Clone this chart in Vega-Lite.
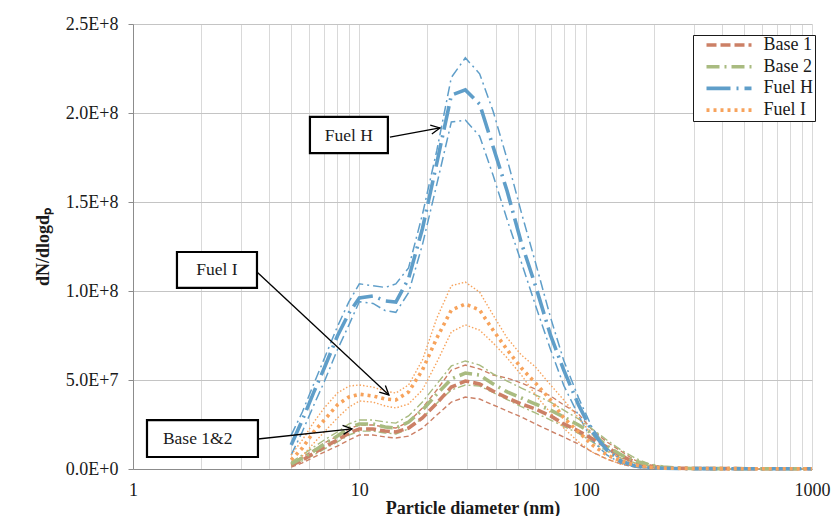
{
  "$schema": "https://vega.github.io/schema/vega-lite/v6.json",
  "width": 679,
  "height": 445,
  "autosize": {"type": "none"},
  "padding": {"left": 133, "top": 24, "right": 19, "bottom": 47},
  "background": "white",
  "config": {
    "font": "Liberation Serif",
    "view": {"stroke": null},
    "axis": {
      "labelFont": "Liberation Serif",
      "titleFont": "Liberation Serif",
      "labelColor": "#1a1a1a",
      "titleColor": "#1a1a1a",
      "labelFontSize": 18,
      "titleFontSize": 18
    }
  },
  "datasets": {
    "psd": [
      {"d": 5, "Base 1": 2.2e6, "B1hi": 3.4e6, "B1lo": 1.1e6, "Base 2": 2.8e6, "B2hi": 3.9e6, "B2lo": 1.7e6, "Fuel H": 1.35e7, "Hhi": 1.9e7, "Hlo": 7.9e6, "Fuel I": 5.1e6, "Ihi": 7.9e6, "Ilo": 2.2e6},
      {"d": 5.6, "Base 1": 5e6, "B1hi": 6.7e6, "B1lo": 3.4e6, "Base 2": 6.2e6, "B2hi": 7.9e6, "B2lo": 4.5e6, "Fuel H": 2.75e7, "Hhi": 3.2e7, "Hlo": 2.1e7, "Fuel I": 1.18e7, "Ihi": 1.63e7, "Ilo": 7.3e6},
      {"d": 6.3, "Base 1": 9e6, "B1hi": 1.07e7, "B1lo": 6.7e6, "Base 2": 1.01e7, "B2hi": 1.24e7, "B2lo": 7.9e6, "Fuel H": 4.33e7, "Hhi": 4.8e7, "Hlo": 3.6e7, "Fuel I": 2.1e7, "Ihi": 2.64e7, "Ilo": 1.46e7},
      {"d": 7, "Base 1": 1.24e7, "B1hi": 1.46e7, "B1lo": 9.5e6, "Base 2": 1.4e7, "B2hi": 1.63e7, "B2lo": 1.12e7, "Fuel H": 5.67e7, "Hhi": 6.2e7, "Hlo": 4.9e7, "Fuel I": 2.75e7, "Ihi": 3.43e7, "Ilo": 2.08e7},
      {"d": 8, "Base 1": 1.63e7, "B1hi": 1.85e7, "B1lo": 1.29e7, "Base 2": 1.85e7, "B2hi": 2.08e7, "B2lo": 1.52e7, "Fuel H": 7.47e7, "Hhi": 8.0e7, "Hlo": 6.7e7, "Fuel I": 3.6e7, "Ihi": 4.27e7, "Ilo": 2.87e7},
      {"d": 9, "Base 1": 2.02e7, "B1hi": 2.25e7, "B1lo": 1.63e7, "Base 2": 2.3e7, "B2hi": 2.53e7, "B2lo": 1.91e7, "Fuel H": 8.76e7, "Hhi": 9.4e7, "Hlo": 8.1e7, "Fuel I": 4.05e7, "Ihi": 4.66e7, "Ilo": 3.48e7},
      {"d": 10, "Base 1": 2.25e7, "B1hi": 2.47e7, "B1lo": 1.91e7, "Base 2": 2.53e7, "B2hi": 2.75e7, "B2lo": 2.13e7, "Fuel H": 9.61e7, "Hhi": 1.04e8, "Hlo": 9.4e7, "Fuel I": 4.2e7, "Ihi": 4.72e7, "Ilo": 3.82e7},
      {"d": 11.5, "Base 1": 2.25e7, "B1hi": 2.47e7, "B1lo": 1.91e7, "Base 2": 2.53e7, "B2hi": 2.75e7, "B2lo": 2.13e7, "Fuel H": 9.72e7, "Hhi": 1.03e8, "Hlo": 9.3e7, "Fuel I": 4.1e7, "Ihi": 4.6e7, "Ilo": 3.76e7},
      {"d": 13, "Base 1": 2.13e7, "B1hi": 2.36e7, "B1lo": 1.8e7, "Base 2": 2.36e7, "B2hi": 2.64e7, "B2lo": 2.02e7, "Fuel H": 9.44e7, "Hhi": 1.02e8, "Hlo": 8.9e7, "Fuel I": 3.93e7, "Ihi": 4.38e7, "Ilo": 3.54e7},
      {"d": 14.5, "Base 1": 2.08e7, "B1hi": 2.3e7, "B1lo": 1.74e7, "Base 2": 2.3e7, "B2hi": 2.58e7, "B2lo": 1.97e7, "Fuel H": 9.38e7, "Hhi": 1.04e8, "Hlo": 8.8e7, "Fuel I": 3.88e7, "Ihi": 4.27e7, "Ilo": 3.43e7},
      {"d": 16.5, "Base 1": 2.3e7, "B1hi": 2.64e7, "B1lo": 1.85e7, "Base 2": 2.64e7, "B2hi": 2.98e7, "B2lo": 2.25e7, "Fuel H": 1.07e8, "Hhi": 1.13e8, "Hlo": 9.9e7, "Fuel I": 4.33e7, "Ihi": 4.72e7, "Ilo": 3.65e7},
      {"d": 19, "Base 1": 2.87e7, "B1hi": 3.43e7, "B1lo": 2.3e7, "Base 2": 3.31e7, "B2hi": 3.76e7, "B2lo": 2.87e7, "Fuel H": 1.35e8, "Hhi": 1.43e8, "Hlo": 1.26e8, "Fuel I": 5.56e7, "Ihi": 6.12e7, "Ilo": 4.44e7},
      {"d": 22, "Base 1": 3.7e7, "B1hi": 4.44e7, "B1lo": 3.03e7, "Base 2": 4.21e7, "B2hi": 4.78e7, "B2lo": 3.7e7, "Fuel H": 1.72e8, "Hhi": 1.79e8, "Hlo": 1.6e8, "Fuel I": 7.36e7, "Ihi": 8.48e7, "Ilo": 6.0e7},
      {"d": 25.5, "Base 1": 4.6e7, "B1hi": 5.56e7, "B1lo": 3.76e7, "Base 2": 5.06e7, "B2hi": 5.79e7, "B2lo": 4.44e7, "Fuel H": 2.10e8, "Hhi": 2.2e8, "Hlo": 1.95e8, "Fuel I": 8.93e7, "Ihi": 1.03e8, "Ilo": 7.7e7},
      {"d": 29.4, "Base 1": 4.94e7, "B1hi": 5.84e7, "B1lo": 4.04e7, "Base 2": 5.39e7, "B2hi": 6.07e7, "B2lo": 4.72e7, "Fuel H": 2.13e8, "Hhi": 2.31e8, "Hlo": 1.96e8, "Fuel I": 9.27e7, "Ihi": 1.05e8, "Ilo": 8.1e7},
      {"d": 34, "Base 1": 4.78e7, "B1hi": 5.62e7, "B1lo": 3.93e7, "Base 2": 5.28e7, "B2hi": 5.84e7, "B2lo": 4.66e7, "Fuel H": 2.05e8, "Hhi": 2.22e8, "Hlo": 1.87e8, "Fuel I": 8.93e7, "Ihi": 9.94e7, "Ilo": 7.8e7},
      {"d": 39, "Base 1": 4.38e7, "B1hi": 5.28e7, "B1lo": 3.6e7, "Base 2": 4.78e7, "B2hi": 5.34e7, "B2lo": 4.3e7, "Fuel H": 1.81e8, "Hhi": 2.01e8, "Hlo": 1.65e8, "Fuel I": 7.8e7, "Ihi": 8.65e7, "Ilo": 7.08e7},
      {"d": 45, "Base 1": 3.99e7, "B1hi": 5.11e7, "B1lo": 3.26e7, "Base 2": 4.33e7, "B2hi": 4.94e7, "B2lo": 3.9e7, "Fuel H": 1.56e8, "Hhi": 1.74e8, "Hlo": 1.4e8, "Fuel I": 6.7e7, "Ihi": 7.36e7, "Ilo": 6.24e7},
      {"d": 52, "Base 1": 3.65e7, "B1hi": 4.83e7, "B1lo": 2.92e7, "Base 2": 3.99e7, "B2hi": 4.55e7, "B2lo": 3.5e7, "Fuel H": 1.27e8, "Hhi": 1.44e8, "Hlo": 1.16e8, "Fuel I": 5.67e7, "Ihi": 6.4e7, "Ilo": 5.28e7},
      {"d": 60, "Base 1": 3.37e7, "B1hi": 4.49e7, "B1lo": 2.53e7, "Base 2": 3.65e7, "B2hi": 4.16e7, "B2lo": 3.15e7, "Fuel H": 1.03e8, "Hhi": 1.16e8, "Hlo": 9.2e7, "Fuel I": 4.83e7, "Ihi": 5.73e7, "Ilo": 4.16e7},
      {"d": 70, "Base 1": 2.98e7, "B1hi": 4.1e7, "B1lo": 2.13e7, "Base 2": 3.31e7, "B2hi": 3.76e7, "B2lo": 2.75e7, "Fuel H": 7.5e7, "Hhi": 8.5e7, "Hlo": 6.7e7, "Fuel I": 3.88e7, "Ihi": 4.72e7, "Ilo": 3.15e7},
      {"d": 80, "Base 1": 2.53e7, "B1hi": 3.6e7, "B1lo": 1.8e7, "Base 2": 2.92e7, "B2hi": 3.31e7, "B2lo": 2.4e7, "Fuel H": 5.56e7, "Hhi": 6.1e7, "Hlo": 4.7e7, "Fuel I": 2.87e7, "Ihi": 3.88e7, "Ilo": 2.3e7},
      {"d": 93, "Base 1": 2.13e7, "B1hi": 3.09e7, "B1lo": 1.4e7, "Base 2": 2.47e7, "B2hi": 2.81e7, "B2lo": 2.0e7, "Fuel H": 3.6e7, "Hhi": 4.0e7, "Hlo": 3.0e7, "Fuel I": 2.08e7, "Ihi": 2.87e7, "Ilo": 1.52e7},
      {"d": 107, "Base 1": 1.69e7, "B1hi": 2.19e7, "B1lo": 9.5e6, "Base 2": 2.0e7, "B2hi": 2.25e7, "B2lo": 1.52e7, "Fuel H": 2.08e7, "Hhi": 2.3e7, "Hlo": 1.6e7, "Fuel I": 1.35e7, "Ihi": 1.91e7, "Ilo": 9.5e6},
      {"d": 124, "Base 1": 1.24e7, "B1hi": 1.52e7, "B1lo": 5.6e6, "Base 2": 1.3e7, "B2hi": 1.63e7, "B2lo": 1.01e7, "Fuel H": 1.07e7, "Hhi": 1.18e7, "Hlo": 7.9e6, "Fuel I": 7.9e6, "Ihi": 1.07e7, "Ilo": 5.6e6},
      {"d": 143, "Base 1": 7.3e6, "B1hi": 1.01e7, "B1lo": 2.8e6, "Base 2": 8e6, "B2hi": 1.07e7, "B2lo": 6.2e6, "Fuel H": 4.5e6, "Hhi": 5e6, "Hlo": 3.4e6, "Fuel I": 4.5e6, "Ihi": 5.6e6, "Ilo": 2.8e6},
      {"d": 165, "Base 1": 3.9e6, "B1hi": 5e6, "B1lo": 1.1e6, "Base 2": 4.5e6, "B2hi": 6.2e6, "B2lo": 3.4e6, "Fuel H": 1.7e6, "Hhi": 1.7e6, "Hlo": 1.1e6, "Fuel I": 2.2e6, "Ihi": 2.8e6, "Ilo": 1.7e6},
      {"d": 191, "Base 1": 1.7e6, "B1hi": 2.2e6, "B1lo": 5e5, "Base 2": 2.2e6, "B2hi": 2.8e6, "B2lo": 1.7e6, "Fuel H": 6e5, "Hhi": 7e5, "Hlo": 5e5, "Fuel I": 1e6, "Ihi": 1.1e6, "Ilo": 8e5},
      {"d": 220, "Base 1": 6e5, "B1hi": 1e6, "B1lo": 3e5, "Base 2": 1.1e6, "B2hi": 1.1e6, "B2lo": 8e5, "Fuel H": 4e5, "Hhi": 4e5, "Hlo": 3e5, "Fuel I": 5e5, "Ihi": 5e5, "Ilo": 4e5},
      {"d": 255, "Base 1": 4e5, "B1hi": 5e5, "B1lo": 3e5, "Base 2": 5e5, "B2hi": 6e5, "B2lo": 4e5, "Fuel H": 3e5, "Hhi": 3e5, "Hlo": 2e5, "Fuel I": 4e5, "Ihi": 4e5, "Ilo": 3e5},
      {"d": 294, "Base 1": 3e5, "B1hi": 4e5, "B1lo": 2e5, "Base 2": 3e5, "B2hi": 4e5, "B2lo": 3e5, "Fuel H": 2e5, "Hhi": 2e5, "Hlo": 2e5, "Fuel I": 3e5, "Ihi": 3e5, "Ilo": 2e5},
      {"d": 340, "Base 1": 2.5e5, "B1hi": 3e5, "B1lo": 2e5, "Base 2": 2.5e5, "B2hi": 3e5, "B2lo": 2e5, "Fuel H": 2e5, "Hhi": 2e5, "Hlo": 1.5e5, "Fuel I": 2.5e5, "Ihi": 2.5e5, "Ilo": 2e5},
      {"d": 392, "Base 1": 2e5, "B1hi": 2.5e5, "B1lo": 1.5e5, "Base 2": 2e5, "B2hi": 2.5e5, "B2lo": 1.5e5, "Fuel H": 1.5e5, "Hhi": 1.5e5, "Hlo": 1e5, "Fuel I": 2e5, "Ihi": 2e5, "Ilo": 1.5e5},
      {"d": 453, "Base 1": 2e5, "B1hi": 2e5, "B1lo": 1.5e5, "Base 2": 2e5, "B2hi": 2e5, "B2lo": 1.5e5, "Fuel H": 1.5e5, "Hhi": 1.5e5, "Hlo": 1e5, "Fuel I": 2e5, "Ihi": 2e5, "Ilo": 1.5e5},
      {"d": 523, "Base 1": 1.5e5, "B1hi": 2e5, "B1lo": 1e5, "Base 2": 1.5e5, "B2hi": 2e5, "B2lo": 1e5, "Fuel H": 1e5, "Hhi": 1e5, "Hlo": 1e5, "Fuel I": 1.5e5, "Ihi": 1.5e5, "Ilo": 1e5},
      {"d": 604, "Base 1": 1.5e5, "B1hi": 1.5e5, "B1lo": 1e5, "Base 2": 1.5e5, "B2hi": 1.5e5, "B2lo": 1e5, "Fuel H": 1e5, "Hhi": 1e5, "Hlo": 1e5, "Fuel I": 1.5e5, "Ihi": 1.5e5, "Ilo": 1e5},
      {"d": 698, "Base 1": 1e5, "B1hi": 1.5e5, "B1lo": 1e5, "Base 2": 1e5, "B2hi": 1.5e5, "B2lo": 1e5, "Fuel H": 1e5, "Hhi": 1e5, "Hlo": 1e5, "Fuel I": 1e5, "Ihi": 1.5e5, "Ilo": 1e5},
      {"d": 806, "Base 1": 1e5, "B1hi": 1e5, "B1lo": 1e5, "Base 2": 1e5, "B2hi": 1e5, "B2lo": 1e5, "Fuel H": 1e5, "Hhi": 1e5, "Hlo": 1e5, "Fuel I": 1e5, "Ihi": 1e5, "Ilo": 1e5},
      {"d": 931, "Base 1": 1e5, "B1hi": 1e5, "B1lo": 1e5, "Base 2": 1e5, "B2hi": 1e5, "B2lo": 1e5, "Fuel H": 1e5, "Hhi": 1e5, "Hlo": 1e5, "Fuel I": 1e5, "Ihi": 1e5, "Ilo": 1e5},
      {"d": 1000, "Base 1": 1e5, "B1hi": 1e5, "B1lo": 1e5, "Base 2": 1e5, "B2hi": 1e5, "B2lo": 1e5, "Fuel H": 1e5, "Hhi": 1e5, "Hlo": 1e5, "Fuel I": 1e5, "Ihi": 1e5, "Ilo": 1e5}
    ],
    "boxes": [
      {"label": "Fuel H", "d": 6.05, "d2": 13.37, "n": 1.775e8, "n2": 1.978e8},
      {"label": "Fuel I", "d": 1.564, "d2": 3.53, "n": 1.017e8, "n2": 1.219e8},
      {"label": "Base 1&2", "d": 1.153, "d2": 3.565, "n": 6.74e6, "n2": 2.75e7}
    ],
    "captions": [
      {"label": "Fuel H", "d": 8.99, "n": 1.871e8},
      {"label": "Fuel I", "d": 2.35, "n": 1.118e8},
      {"label": "Base 1&2", "d": 1.93, "n": 1.685e7}
    ],
    "arrows": [
      {"label": "Fuel H", "d": 13.65, "n": 1.865e8, "d2": 22.7, "n2": 1.916e8},
      {"label": "Fuel I", "d": 3.53, "n": 1.107e8, "d2": 13.51, "n2": 4.16e7},
      {"label": "Base 1&2", "d": 3.565, "n": 1.685e7, "d2": 9.28, "n2": 2.25e7}
    ],
    "tips": [
      {"label": "Fuel H", "d": 22.7, "n": 1.916e8},
      {"label": "Fuel I", "d": 13.51, "n": 4.16e7},
      {"label": "Base 1&2", "d": 9.28, "n": 2.25e7}
    ]
  },
  "encoding": {
    "x": {
      "field": "d",
      "type": "quantitative",
      "scale": {"type": "log", "domain": [1, 1000]},
      "axis": {
        "title": "Particle diameter (nm)",
        "titleFontWeight": "bold",
        "titlePadding": 0,
        "values": [1, 2, 3, 4, 5, 6, 7, 8, 9, 10, 20, 30, 40, 50, 60, 70, 80, 90, 100, 200, 300, 400, 500, 600, 700, 800, 900, 1000],
        "labelExpr": "datum.value == 1 || datum.value == 10 || datum.value == 100 || datum.value == 1000 ? format(datum.value, 'd') : ''",
        "labelFlush": false,
        "labelOverlap": false,
        "labelPadding": 12,
        "ticks": false,
        "grid": true,
        "gridColor": "#d9d9d9",
        "gridWidth": 1,
        "domainColor": "#8c8c8c"
      }
    },
    "y": {
      "field": "n",
      "type": "quantitative",
      "scale": {"domain": [0, 250000000], "nice": false},
      "axis": {
        "title": "dN/dlogdₚ",
        "titleFontWeight": "bold",
        "titlePadding": 13,
        "values": [0, 50000000, 100000000, 150000000, 200000000, 250000000],
        "labelExpr": "datum.value == 0 ? '0.0E+0' : format(datum.value / pow(10, floor(log(datum.value) / LN10 + 1e-9)), '.1f') + 'E+' + floor(log(datum.value) / LN10 + 1e-9)",
        "labelPadding": 10,
        "tickSize": 5,
        "tickColor": "#8c8c8c",
        "grid": true,
        "gridColor": "#c4c4c4",
        "domainColor": "#8c8c8c"
      }
    }
  },
  "layer": [
    {
      "data": {"name": "psd"},
      "transform": [{"fold": ["B1hi", "B1lo"], "as": ["bound", "n"]}],
      "mark": {"type": "line", "color": "#cc8066", "strokeWidth": 1.4, "strokeDash": [5, 3]},
      "encoding": {"detail": {"field": "bound"}}
    },
    {
      "data": {"name": "psd"},
      "transform": [{"fold": ["B2hi", "B2lo"], "as": ["bound", "n"]}],
      "mark": {"type": "line", "color": "#a9bb80", "strokeWidth": 1.4, "strokeDash": [8, 3, 2, 3]},
      "encoding": {"detail": {"field": "bound"}}
    },
    {
      "data": {"name": "psd"},
      "transform": [{"fold": ["Hhi", "Hlo"], "as": ["bound", "n"]}],
      "mark": {"type": "line", "color": "#5f9ec9", "strokeWidth": 1.5, "strokeDash": [10, 4, 2, 4]},
      "encoding": {"detail": {"field": "bound"}}
    },
    {
      "data": {"name": "psd"},
      "transform": [{"fold": ["Ihi", "Ilo"], "as": ["bound", "n"]}],
      "mark": {"type": "line", "color": "#f7a35c", "strokeWidth": 1.4, "strokeDash": [1.5, 2]},
      "encoding": {"detail": {"field": "bound"}}
    },
    {
      "data": {"name": "psd"},
      "transform": [{"fold": ["Base 1", "Base 2", "Fuel H", "Fuel I"], "as": ["series", "n"]}],
      "mark": {"type": "line", "strokeWidth": 3.6},
      "encoding": {
        "color": {
          "field": "series",
          "type": "nominal",
          "scale": {"domain": ["Base 1", "Base 2", "Fuel H", "Fuel I"], "range": ["#cc8066", "#a9bb80", "#5f9ec9", "#f7a35c"]},
          "legend": {
            "title": null,
            "orient": "none",
            "legendX": 560,
            "legendY": 11,
            "symbolType": "stroke",
            "symbolSize": 2025,
            "symbolStrokeWidth": 3.6,
            "symbolOffset": 10,
            "clipHeight": 17,
            "labelFont": "Liberation Serif",
            "labelFontSize": 18,
            "labelColor": "#1a1a1a",
            "labelOffset": 10,
            "strokeColor": "#1a1a1a",
            "fillColor": "white",
            "padding": 1.5,
            "rowPadding": 2.7
          }
        },
        "strokeDash": {
          "field": "series",
          "type": "nominal",
          "scale": {"domain": ["Base 1", "Base 2", "Fuel H", "Fuel I"], "range": [[10, 4], [13, 5, 2, 5], [24, 6, 2, 6], [3, 4]]}
        }
      }
    },
    {
      "data": {"name": "arrows"},
      "mark": {"type": "rule", "color": "black", "strokeWidth": 1.3},
      "encoding": {"x2": {"field": "d2"}, "y2": {"field": "n2"}}
    },
    {
      "data": {"name": "tips"},
      "transform": [{"filter": "datum.label == 'Fuel H'"}],
      "mark": {"type": "point", "shape": "M-1,-0.5L0,0L-1,0.5", "filled": false, "stroke": "black", "strokeWidth": 1.3, "size": 324, "angle": 349.8, "opacity": 1}
    },
    {
      "data": {"name": "tips"},
      "transform": [{"filter": "datum.label == 'Fuel I'"}],
      "mark": {"type": "point", "shape": "M-1,-0.5L0,0L-1,0.5", "filled": false, "stroke": "black", "strokeWidth": 1.3, "size": 324, "angle": 43, "opacity": 1}
    },
    {
      "data": {"name": "tips"},
      "transform": [{"filter": "datum.label == 'Base 1&2'"}],
      "mark": {"type": "point", "shape": "M-1,-0.5L0,0L-1,0.5", "filled": false, "stroke": "black", "strokeWidth": 1.3, "size": 324, "angle": 353.9, "opacity": 1}
    },
    {
      "data": {"name": "boxes"},
      "mark": {"type": "rect", "fill": "white", "stroke": "black", "strokeWidth": 2.2},
      "encoding": {"x2": {"field": "d2"}, "y2": {"field": "n2"}}
    },
    {
      "data": {"name": "captions"},
      "mark": {"type": "text", "font": "Liberation Serif", "fontSize": 17.5, "color": "#1a1a1a", "align": "center", "baseline": "middle"},
      "encoding": {"text": {"field": "label"}}
    }
  ]
}
